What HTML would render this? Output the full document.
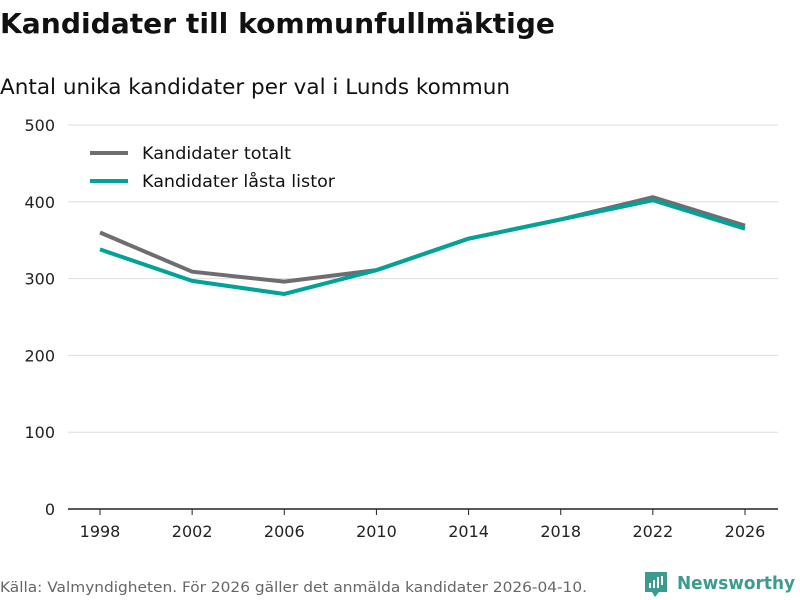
<!DOCTYPE html>
<html><head><meta charset="utf-8"><style>
body{margin:0;width:800px;height:600px;background:#fff;font-family:"DejaVu Sans","Liberation Sans",sans-serif;overflow:hidden}
svg{position:absolute;left:0;top:0}
</style></head><body>
<svg width="800" height="600" id="c">
<text x="0" y="33" font-size="28" font-weight="bold" fill="#111" textLength="555" lengthAdjust="spacingAndGlyphs">Kandidater till kommunfullmäktige</text>
<text x="0" y="94" font-size="21" fill="#111" textLength="510" lengthAdjust="spacingAndGlyphs">Antal unika kandidater per val i Lunds kommun</text>
<g id="grid"></g><g id="lines"></g>
<g>
<line x1="90" y1="153" x2="128" y2="153" stroke="#6f6d71" stroke-width="4"/>
<text x="142" y="159" font-size="17" fill="#111" textLength="149" lengthAdjust="spacingAndGlyphs">Kandidater totalt</text>
<line x1="90" y1="181" x2="128" y2="181" stroke="#00a396" stroke-width="4"/>
<text x="142" y="187" font-size="17" fill="#111" textLength="193" lengthAdjust="spacingAndGlyphs">Kandidater låsta listor</text>
</g>
<text x="0" y="592" font-size="14" fill="#666" textLength="587" lengthAdjust="spacingAndGlyphs">Källa: Valmyndigheten. För 2026 gäller det anmälda kandidater 2026-04-10.</text>
<g>
<path d="M645 572 h22 v20 h-8 l-4 5 l-3 -5 h-7 z" fill="#3a9b8e"/>
<rect x="649" y="583" width="2" height="5" fill="#fff"/><rect x="653" y="580" width="2" height="8" fill="#fff"/><rect x="657" y="577" width="2" height="11" fill="#fff"/><rect x="661" y="576" width="2" height="9" fill="#fff"/>
<text x="677" y="589" font-size="18" font-weight="bold" fill="#3a9b8e" textLength="118" lengthAdjust="spacingAndGlyphs">Newsworthy</text>
</g>
</svg>
<script>
const years=[1998,2002,2006,2010,2014,2018,2022,2026];
const totalt=[360,309,296,311,352,377,406,369];
const lasta=[338,297,280,311,352,377,402,365];
const yTicks=[0,100,200,300,400,500];
const NS="http://www.w3.org/2000/svg";
const x=v=>100+(v-1998)*(645/28);
const y=v=>509-v*0.768;
const g=document.getElementById('grid'),L=document.getElementById('lines');
function el(t,a,p){const e=document.createElementNS(NS,t);for(const k in a)e.setAttribute(k,a[k]);p.appendChild(e);return e;}
yTicks.forEach(t=>{
 const ln=el('line',{x1:68,x2:778,y1:y(t),y2:y(t),stroke:t===0?'#222':'#ddd','stroke-width':t===0?1.5:1},g);
 
 
 const tx=el('text',{x:55,y:y(t)+6,'font-size':16,fill:'#222','text-anchor':'end'},g);tx.textContent=t;
 
 
});
years.forEach(yr=>{
 const tk=el('line',{x1:x(yr),x2:x(yr),y1:509,y2:515,stroke:'#222'},g);
 
 
 const tx=el('text',{x:x(yr),y:537,'font-size':16,fill:'#222','text-anchor':'middle'},g);tx.textContent=yr;
 
 
});
function line(vals,col,name){
 const p=el('polyline',{points:vals.map((v,i)=>x(years[i])+','+y(v)).join(' '),fill:'none',stroke:col,'stroke-width':4,'stroke-linejoin':'round'},L);
 
 
}
line(totalt,'#6f6d71','line-totalt');
line(lasta,'#00a396','line-lasta-listor');
</script>
</body></html>
